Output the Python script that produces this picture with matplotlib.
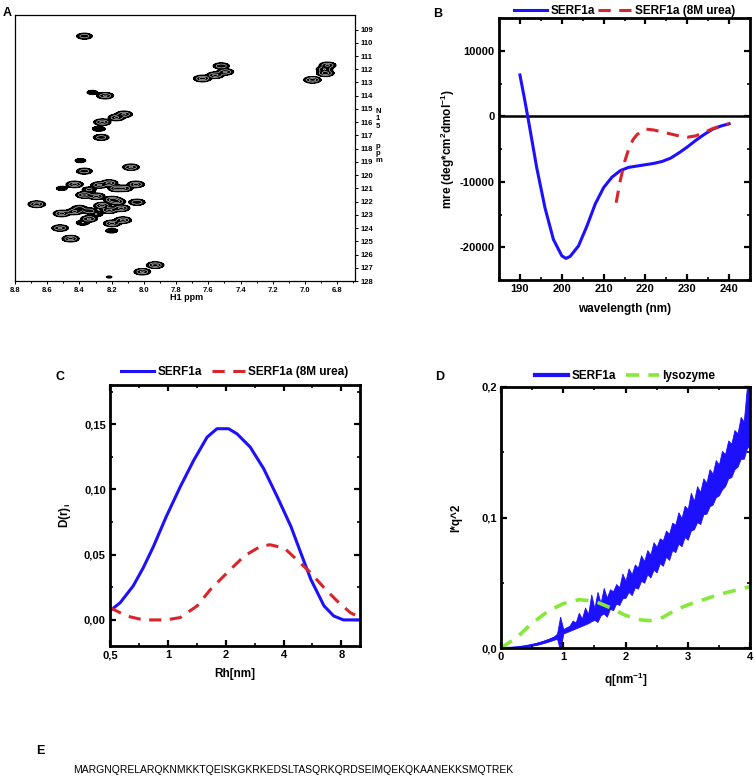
import numpy as np
import matplotlib
matplotlib.use("Agg")
import matplotlib.pyplot as plt
from matplotlib.ticker import MultipleLocator, FixedLocator, FuncFormatter, NullFormatter

plt.rcParams['font.family'] = ['Liberation Sans', 'DejaVu Sans']
plt.rcParams['axes.unicode_minus'] = False
plt.rcParams['mathtext.fontset'] = 'custom'
plt.rcParams['mathtext.rm'] = 'Liberation Sans:bold'
plt.rcParams['mathtext.bf'] = 'Liberation Sans:bold'
plt.rcParams['mathtext.default'] = 'bf'

# ---- A: HSQC peak list (H1 ppm, N15 ppm, relative intensity)
peak_H = [8.369, 7.52, 7.495, 7.557, 7.637, 6.86, 6.874, 6.954, 6.88,
          8.32, 8.24, 8.123, 8.17, 8.258, 8.28, 8.265, 8.394, 8.37, 8.08,
          8.43, 8.51, 8.05, 8.215, 8.277, 8.17, 8.12, 8.34, 8.37, 8.295,
          8.197, 8.665, 8.258, 8.166, 8.043, 8.14, 8.215, 8.51, 8.43, 8.40,
          8.34, 8.295, 8.34, 8.38, 8.197, 8.13, 8.2, 8.52, 8.455, 7.93, 8.01, 8.215]
peak_N = [109.5, 111.75, 112.2, 112.45, 112.7, 111.7, 112.3, 112.8, 112.0,
          113.75, 114.0, 115.4, 115.65, 116.0, 116.5, 117.15, 118.9, 119.7, 119.4,
          120.7, 121.0, 120.7, 120.6, 120.75, 121.0, 121.0, 121.1, 121.5, 121.6,
          121.85, 122.2, 122.3, 122.0, 122.05, 122.5, 122.65, 122.9, 122.75, 122.5,
          122.7, 122.95, 123.3, 123.6, 123.65, 123.4, 124.2, 124.0, 124.8, 126.8, 127.3, 127.7]
peak_I = [0.6, 0.7, 0.8, 0.9, 1.0, 0.8, 1.0, 1.0, 0.7,
          0.2, 0.8, 0.8, 0.8, 0.9, 0.3, 0.6, 0.2, 0.6, 0.8,
          0.9, 0.2, 0.9, 0.9, 0.8, 0.9, 0.7, 0.4, 0.9, 0.9,
          0.9, 1.0, 0.9, 0.8, 0.7, 0.9, 0.9, 0.9, 0.8, 0.5,
          0.6, 0.3, 0.8, 0.3, 0.9, 0.9, 0.25, 0.8, 0.9, 1.0, 0.8, 0.1]

# ---- B: CD spectra
wl_native = [190, 191, 192, 194, 196, 198, 200, 201, 202, 204, 206, 208, 210,
             212, 214, 216, 218, 220, 222, 224, 226, 228, 230, 232, 234, 236, 238, 240]
mre_native = [6300, 3000, -500, -7800, -14000, -18800, -21300, -21700, -21400, -19800,
              -16800, -13400, -10900, -9300, -8300, -7800, -7600, -7400, -7200, -6900,
              -6400, -5600, -4700, -3700, -2800, -2000, -1500, -1150]
wl_urea = [213, 214, 215, 216, 217, 218, 220, 222, 224, 226, 228, 230, 232, 234, 236, 238, 240]
mre_urea = [-13200, -9800, -7000, -5000, -3600, -2800, -1950, -2100, -2400, -2700,
            -3000, -3200, -3000, -2500, -1900, -1500, -1150]

# ---- C: DLS size distributions
rh_native = [0.5, 0.565, 0.66, 0.745, 0.84, 0.98, 1.16, 1.36, 1.6, 1.8, 2.07, 2.29,
             2.68, 3.15, 3.72, 4.37, 4.92, 5.55, 6.5, 7.3, 8.2, 10.0]
d_native = [0.0069, 0.0132, 0.026, 0.040, 0.056, 0.079, 0.102, 0.122, 0.140, 0.1465,
            0.1465, 0.1426, 0.1325, 0.116, 0.094, 0.0716, 0.0513, 0.031, 0.0107, 0.003, 0.0, 0.0]
rh_urea = [0.5, 0.61, 0.745, 0.98, 1.16, 1.42, 1.66, 2.03, 2.5, 3.03, 3.4, 4.04, 4.7,
           5.55, 6.5, 7.6, 8.9, 10.0]
d_urea = [0.0094, 0.003, 0.0, 0.0, 0.0018, 0.0107, 0.023, 0.036, 0.049, 0.0563, 0.0576,
          0.055, 0.046, 0.036, 0.0246, 0.0145, 0.0056, 0.0018]

# ---- D: Kratky plots (SERF1a drawn as its noisy envelope)
q_serf = [0.00, 0.05, 0.10, 0.15, 0.20, 0.25, 0.30, 0.35, 0.40, 0.45, 0.50, 0.55, 0.60,
          0.65, 0.70, 0.75, 0.80, 0.85, 0.90, 0.95, 1.00, 1.05, 1.10, 1.15, 1.20, 1.25,
          1.30, 1.35, 1.40, 1.45, 1.50, 1.55, 1.60, 1.65, 1.70, 1.75, 1.80, 1.85, 1.90,
          1.95, 2.00, 2.05, 2.10, 2.15, 2.20, 2.25, 2.30, 2.35, 2.40, 2.45, 2.50, 2.55,
          2.60, 2.65, 2.70, 2.75, 2.80, 2.85, 2.90, 2.95, 3.00, 3.05, 3.10, 3.15, 3.20,
          3.25, 3.30, 3.35, 3.40, 3.45, 3.50, 3.55, 3.60, 3.65, 3.70, 3.75, 3.80, 3.85,
          3.90, 3.95, 4.00]
serf_lo = [0.0000, -0.0002, -0.0002, -0.0002, 0.0000, 0.0002, 0.0004, 0.0007, 0.0010,
           0.0014, 0.0018, 0.0022, 0.0027, 0.0033, 0.0040, 0.0047, 0.0055, 0.0063, 0.0071,
           -0.0020, 0.0110, 0.0121, 0.0130, 0.0140, 0.0150, 0.0160, 0.0170, 0.0180, 0.0190,
           0.0205, 0.0215, 0.0200, 0.0250, 0.0265, 0.0240, 0.0300, 0.0290, 0.0340, 0.0330,
           0.0380, 0.0385, 0.0430, 0.0405, 0.0465, 0.0455, 0.0515, 0.0500, 0.0565, 0.0540,
           0.0600, 0.0580, 0.0650, 0.0630, 0.0700, 0.0675, 0.0750, 0.0735, 0.0800, 0.0780,
           0.0850, 0.0830, 0.0900, 0.0910, 0.0965, 0.0950, 0.1025, 0.1030, 0.1085, 0.1100,
           0.1155, 0.1170, 0.1215, 0.1240, 0.1300, 0.1310, 0.1370, 0.1390, 0.1450, 0.1450,
           0.1530, 0.1560]
serf_hi = [0.0005, 0.0005, 0.0006, 0.0007, 0.0009, 0.0011, 0.0014, 0.0017, 0.0021,
           0.0026, 0.0031, 0.0037, 0.0044, 0.0051, 0.0059, 0.0068, 0.0078, 0.0088, 0.0110,
           0.0240, 0.0145, 0.0158, 0.0170, 0.0210, 0.0195, 0.0270, 0.0225, 0.0310, 0.0260,
           0.0410, 0.0305, 0.0430, 0.0345, 0.0460, 0.0385, 0.0450, 0.0435, 0.0490, 0.0465,
           0.0570, 0.0515, 0.0610, 0.0565, 0.0640, 0.0615, 0.0710, 0.0665, 0.0750, 0.0715,
           0.0810, 0.0775, 0.0840, 0.0825, 0.0900, 0.0875, 0.0960, 0.0945, 0.1040, 0.0995,
           0.1090, 0.1065, 0.1190, 0.1125, 0.1240, 0.1195, 0.1300, 0.1265, 0.1370, 0.1335,
           0.1440, 0.1405, 0.1510, 0.1485, 0.1590, 0.1565, 0.1670, 0.1645, 0.1770, 0.1735,
           0.2000, 0.2000]
q_lys = [0.0, 0.25, 0.5, 0.75, 1.0, 1.25, 1.5, 1.75, 2.0, 2.25, 2.4, 2.6, 2.8, 3.0,
         3.25, 3.5, 3.75, 4.0]
lys = [0.0, 0.008, 0.019, 0.028, 0.034, 0.037, 0.036, 0.031, 0.025, 0.0215, 0.021,
       0.0235, 0.029, 0.033, 0.037, 0.041, 0.044, 0.047]

sequence = "MARGNQRELARQKNMKKTQEISKGKRKEDSLTASQRKQRDSEIMQEKQKAANEKKSMQTREK"

BLUE = '#1c10ff'
RED = '#d9252a'
GREEN = '#86e83a'
B = 'bold'

W, H = 755, 780
fig = plt.figure(figsize=(W / 100, H / 100), dpi=100)


def px_axes(x0, y0, x1, y1):
    return fig.add_axes([x0 / W, 1 - y1 / H, (x1 - x0) / W, (y1 - y0) / H])


def bold_ticks(ax):
    for lab in ax.get_xticklabels() + ax.get_yticklabels():
        lab.set_fontweight(B)


def origin_style(ax):
    for s in ax.spines.values():
        s.set_linewidth(2)
    ax.tick_params(which='both', direction='in', top=True, right=True,
                   labelsize=8, pad=3)
    ax.tick_params(which='major', length=4.5, width=1.6)
    ax.tick_params(which='minor', length=2.5, width=1.2)


def comma(fmt):
    return FuncFormatter(lambda v, p: fmt.format(v).replace('.', ','))


def fig_text(x, y, s, **kw):
    kw.setdefault('fontweight', B)
    fig.text(x / W, 1 - y / H, s, **kw)


legend_kw = dict(loc='lower center', ncol=2, frameon=False,
                 prop={'weight': B, 'size': 8.5}, handlelength=2.8,
                 handletextpad=0.3, borderaxespad=0)

# ---------------- A
axA = px_axes(15, 15, 355, 281)
hh = np.linspace(6.69, 8.8, 900)
nn = np.linspace(107.9, 128.0, 900)
HH, NN = np.meshgrid(hh, nn)
Z = np.zeros_like(HH)
for h, n, a in zip(peak_H, peak_N, peak_I):
    Z += a * np.exp(-0.5 * ((HH - h) / 0.024) ** 2 - 0.5 * ((NN - n) / 0.11) ** 2)
axA.contourf(HH, NN, Z, levels=[0.08, 50], colors='k')
axA.contour(HH, NN, Z, levels=[0.08, 0.15], colors='k', linewidths=0.9)
axA.contour(HH, NN, Z, levels=[0.3, 0.7], colors='w', linewidths=0.35)
axA.set_xlim(8.8, 6.69)
axA.set_ylim(128.0, 107.9)
axA.yaxis.tick_right()
axA.set_yticks(np.arange(109, 129))
axA.xaxis.set_major_locator(FixedLocator(np.arange(6.8, 8.81, 0.2)))
axA.xaxis.set_major_formatter(FuncFormatter(lambda v, p: f"{v:.1f}"))
axA.xaxis.set_minor_locator(MultipleLocator(0.1))
axA.tick_params(which='both', direction='out', labelsize=5.5, width=0.7, pad=1.5)
axA.tick_params(which='major', length=2.5)
axA.tick_params(which='minor', length=1.5)
for s in axA.spines.values():
    s.set_linewidth(0.9)
bold_ticks(axA)
fig_text(187, 300, "H1 ppm", ha='center', va='baseline', fontsize=6.5)
fig_text(376, 108, "N\n1\n5", ha='left', va='top', fontsize=5.5, linespacing=1.05)
fig_text(376, 143, "p\np\nm", ha='left', va='top', fontsize=5.5, linespacing=1.05)
fig_text(3, 16, "A", fontsize=9, va='baseline')

# ---------------- B
axB = px_axes(499, 18, 750, 280)
axB.axhline(0, color='k', lw=1.8)
axB.plot(wl_native, mre_native, color=BLUE, lw=2.2, label='SERF1a')
axB.plot(wl_urea, mre_urea, color=RED, lw=2.2, dashes=(4, 2.8), label='SERF1a (8M urea)')
axB.set_xlim(185, 245)
axB.set_ylim(-25000, 15000)
axB.xaxis.set_major_locator(FixedLocator(np.arange(190, 241, 10)))
axB.xaxis.set_minor_locator(MultipleLocator(5))
axB.yaxis.set_major_locator(FixedLocator([-20000, -10000, 0, 10000]))
axB.yaxis.set_minor_locator(MultipleLocator(5000))
origin_style(axB)
bold_ticks(axB)
axB.set_xlabel("wavelength (nm)", fontsize=8.5, fontweight=B, labelpad=6)
axB.set_ylabel("mre (deg*cm$^2$dmol$^{-1}$)", fontsize=8.5, fontweight=B, labelpad=2)
axB.legend(bbox_to_anchor=(0.5, 0.985), columnspacing=0.3, **legend_kw)
fig_text(433, 17, "B", fontsize=9, va='baseline')

# ---------------- C
axC = px_axes(110, 385, 360, 646)
axC.plot(rh_native, d_native, color=BLUE, lw=2.2, label='SERF1a')
axC.plot(rh_urea, d_urea, color=RED, lw=2.2, dashes=(4, 2.8), label='SERF1a (8M urea)')
axC.set_xscale('log', base=2)
axC.set_xlim(0.5, 10)
axC.set_ylim(-0.02, 0.18)
axC.xaxis.set_major_locator(FixedLocator([0.5, 1, 2, 4, 8]))
axC.xaxis.set_major_formatter(FuncFormatter(lambda v, p: "0,5" if v < 1 else f"{v:.0f}"))
axC.xaxis.set_minor_locator(FixedLocator([0.707, 1.414, 2.828, 5.657]))
axC.xaxis.set_minor_formatter(NullFormatter())
axC.yaxis.set_major_locator(FixedLocator([0.0, 0.05, 0.10, 0.15]))
axC.yaxis.set_major_formatter(comma("{:.2f}"))
axC.yaxis.set_minor_locator(MultipleLocator(0.025))
origin_style(axC)
bold_ticks(axC)
axC.set_xlabel("Rh[nm]", fontsize=8.5, fontweight=B, labelpad=6)
axC.set_ylabel("D(r)$_i$", fontsize=8.5, fontweight=B, labelpad=8)
axC.legend(bbox_to_anchor=(0.5, 1.01), columnspacing=0.8, **legend_kw)
fig_text(55, 380, "C", fontsize=9, va='baseline')

# ---------------- D
axD = px_axes(501, 387, 750, 648)
axD.fill_between(q_serf, serf_lo, serf_hi, color=BLUE, lw=0.6, edgecolor=BLUE)
axD.plot(q_serf, (np.array(serf_lo) + np.array(serf_hi)) / 2, color=BLUE, lw=1.2)
axD.plot([], [], color=BLUE, lw=3, label='SERF1a')
axD.plot(q_lys, lys, color=GREEN, lw=2.6, dashes=(3.6, 2.6), label='lysozyme')
axD.set_xlim(0, 4)
axD.set_ylim(0, 0.2)
axD.xaxis.set_major_locator(MultipleLocator(1))
axD.xaxis.set_minor_locator(MultipleLocator(0.5))
axD.yaxis.set_major_locator(FixedLocator([0.0, 0.1, 0.2]))
axD.yaxis.set_major_formatter(comma("{:.1f}"))
axD.yaxis.set_minor_locator(MultipleLocator(0.05))
origin_style(axD)
bold_ticks(axD)
axD.set_xlabel("q[nm$^{-1}$]", fontsize=8.5, fontweight=B, labelpad=6)
axD.set_ylabel("I*q^2", fontsize=8.5, fontweight=B, labelpad=14)
axD.legend(bbox_to_anchor=(0.5, 1.0), columnspacing=0.8, **legend_kw)
fig_text(435, 380, "D", fontsize=9, va='baseline')

# ---------------- E
fig_text(36, 754, "E", fontsize=9, va='baseline')
fig_text(73, 773, sequence, fontsize=7.45, fontweight='normal', va='baseline')

fig.savefig("out.png", dpi=100)
